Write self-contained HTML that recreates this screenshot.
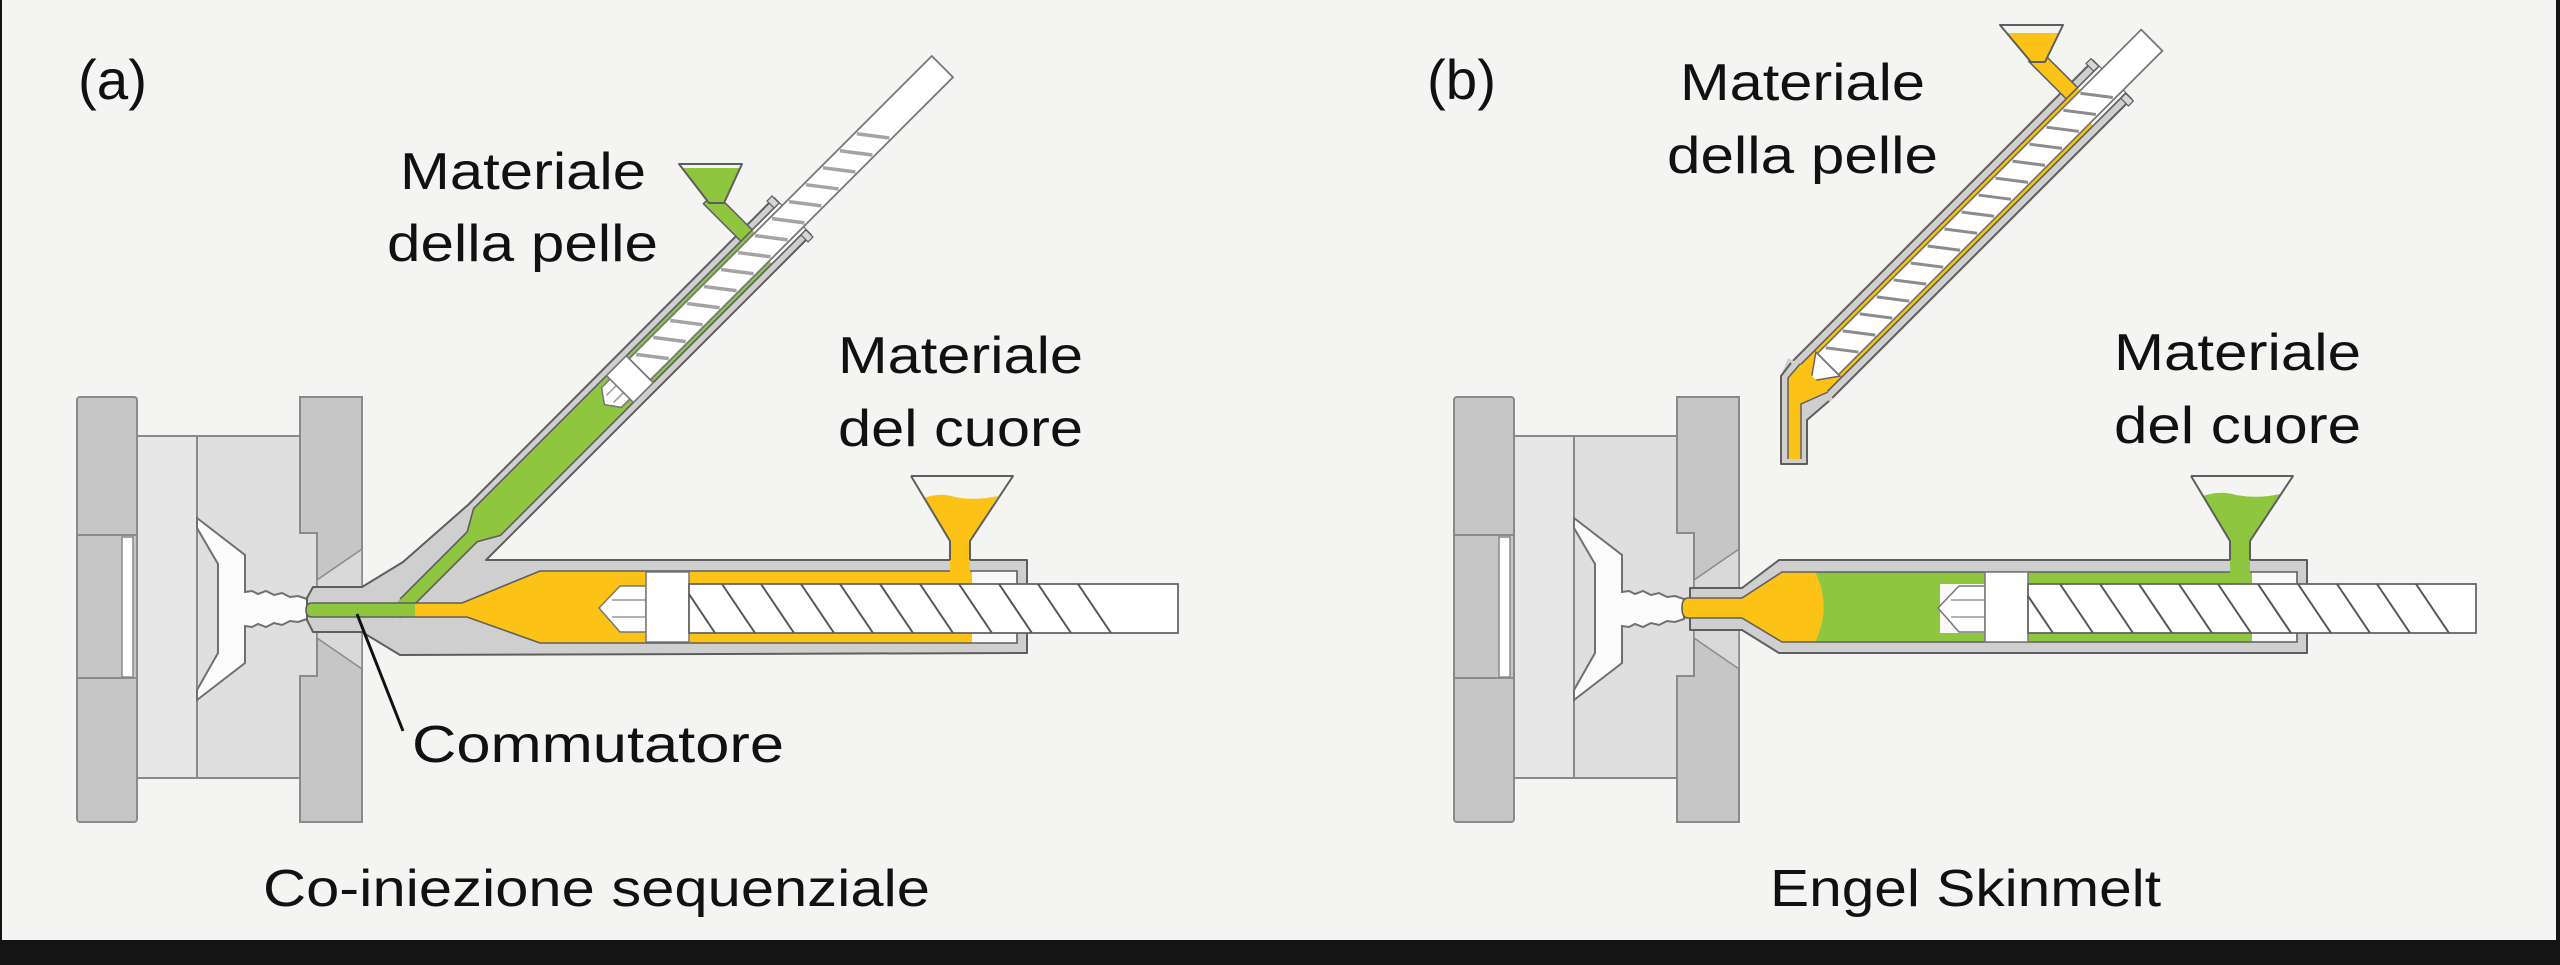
<!DOCTYPE html>
<html><head><meta charset="utf-8"><style>
html,body{margin:0;padding:0;background:#141414;}
svg{display:block;}
text{font-family:"Liberation Sans",sans-serif;fill:#111;}
</style></head><body>
<svg width="2560" height="965" viewBox="0 0 2560 965" xmlns="http://www.w3.org/2000/svg">
<rect x="0" y="0" width="2560" height="965" fill="#141414"/>
<rect x="2" y="0" width="2554" height="940" fill="#f4f4f2"/>
<defs>
<g id="mold" stroke="#8a8a8a" stroke-width="2">
  <rect x="137" y="436" width="60" height="342" fill="#e7e7e7"/>
  <rect x="197" y="436" width="103" height="342" fill="#dfdfdf"/>
  <rect x="298" y="533" width="19" height="143" fill="#dfdfdf" stroke="none"/>
  <polygon fill="#fbfbfb" stroke="#707070" points="197,518 245,555 245,592 252,591 258,594 266,591 274,595 282,593 290,597 298,596 307,599 307,619 298,622 290,621 282,625 274,623 266,627 258,624 252,627 245,626 245,663 197,700 197,690 218,653 218,564 197,528"/>
  <rect x="77" y="397" width="60" height="425" rx="3" fill="#c6c6c6"/>
  <line x1="77" y1="535" x2="137" y2="535"/>
  <line x1="77" y1="678" x2="137" y2="678"/>
  <rect x="122" y="537" width="11" height="140" fill="#ffffff" stroke-width="1.5"/>
  <path d="M300,397 H362 V822 H300 V676 H317 V533 H300 Z" fill="#c6c6c6"/>
  <polygon points="317,580 362,549 362,588 317,588" fill="#d9d9d9" stroke-width="1.5"/>
  <polygon points="317,638 362,669 362,630 317,630" fill="#d9d9d9" stroke-width="1.5"/>
</g>
</defs>
<use href="#mold"/>
<use href="#mold" x="1377"/>

<!-- ================= PANEL A ================= -->
<polygon points="313,587 362,587 403,562 469,504 774,198 811,235 486,560 1027,560 1027,653 400,655 362,632 313,632 307,620 307,598" fill="#cfcfcf" stroke="#5e5e5e" stroke-width="2" stroke-linejoin="round"/>

<!-- skin unit A (rotated) -->
<g transform="translate(405,604) rotate(-45)">
  <rect x="494" y="-72" width="16" height="54" fill="#8fc640" stroke="#5e5e5e" stroke-width="1.5"/>
  <polygon points="95,-7 116,-19 548,-19 548,19 116,19 95,7" fill="#f8f8f8"/>
  <polygon points="-14,-7 95,-7 116,-19 304,-19 304,19 116,19 95,7 -14,7" fill="#8fc640"/>
  <rect x="304" y="-19" width="206" height="4" fill="#8fc640"/>
  <rect x="304" y="15" width="196" height="4" fill="#8fc640"/>
  <path d="M0,-7 L95,-7 L116,-19 L548,-19 M0,7 L95,7 L116,19 L548,19" fill="none" stroke="#5e5e5e" stroke-width="1.6"/>
  <rect x="541" y="-29" width="7" height="10" fill="#d6d6d6" stroke="#5e5e5e" stroke-width="1.2"/>
  <rect x="541" y="19" width="7" height="10" fill="#d6d6d6" stroke="#5e5e5e" stroke-width="1.2"/>
  <polygon points="282,0 292,-14 304,-14 304,14 292,14" fill="#ffffff" stroke="#777" stroke-width="1.5"/>
  <line x1="290" y1="-5" x2="304" y2="-5" stroke="#999" stroke-width="1.5"/>
  <line x1="290" y1="5" x2="304" y2="5" stroke="#999" stroke-width="1.5"/>
  <rect x="304" y="-19" width="28" height="38" fill="#ffffff" stroke="#777" stroke-width="1.5"/>
  <rect x="332" y="-15" width="428" height="30" fill="#ffffff" stroke="#777" stroke-width="1.8"/>
  <g stroke="#a4a4a4" stroke-width="3.5">
    <line x1="340" y1="-13" x2="360" y2="13"/><line x1="364" y1="-13" x2="384" y2="13"/>
    <line x1="388" y1="-13" x2="408" y2="13"/><line x1="412" y1="-13" x2="432" y2="13"/>
    <line x1="436" y1="-13" x2="456" y2="13"/><line x1="460" y1="-13" x2="480" y2="13"/>
    <line x1="484" y1="-13" x2="504" y2="13"/><line x1="508" y1="-13" x2="528" y2="13"/>
    <line x1="532" y1="-13" x2="552" y2="13"/><line x1="556" y1="-13" x2="576" y2="13"/>
    <line x1="580" y1="-13" x2="600" y2="13"/><line x1="604" y1="-13" x2="624" y2="13"/>
    <line x1="628" y1="-13" x2="648" y2="13"/><line x1="652" y1="-13" x2="672" y2="13"/>
  </g>
</g>
<!-- skin hopper A -->
<polygon points="679,164 742,164 724,203 709,203" fill="#f4f4f2"/>
<polygon points="682,168 740,168 724,203 709,203" fill="#8fc640"/>
<polygon points="679,164 742,164 724,203 709,203" fill="none" stroke="#5e5e5e" stroke-width="2" stroke-linejoin="round"/>

<!-- horizontal unit A -->
<rect x="540" y="571" width="477" height="72" fill="#f8f8f8"/>
<polygon points="413,603 462,603 540,571 972,571 972,643 540,643 467,617 413,617" fill="#fcc216"/>
<path d="M306,610 Q306,603 312,603 H415 V617 H312 Q306,617 306,610 Z" fill="#8fc640"/>
<path d="M413,603 H462 L540,571 H1017 V584 M1017,633 V643 H540 L467,617 H413 M413,603 H312 Q306,603 306,610 Q306,617 312,617 H413" fill="none" stroke="#5e5e5e" stroke-width="1.6"/>
<polygon points="599,608 620,586 646,586 646,632 620,632" fill="#ffffff" stroke="#777" stroke-width="1.5"/>
<line x1="612" y1="600" x2="646" y2="600" stroke="#999" stroke-width="1.5"/>
<line x1="612" y1="617" x2="646" y2="617" stroke="#999" stroke-width="1.5"/>
<rect x="646" y="572" width="43" height="70" fill="#ffffff" stroke="#777" stroke-width="1.5"/>
<rect x="689" y="584" width="489" height="49" fill="#ffffff" stroke="#666" stroke-width="1.8"/>
<g stroke="#555" stroke-width="2">
  <line x1="689" y1="594" x2="715" y2="633"/>
  <line x1="722" y1="584" x2="755" y2="633"/><line x1="761" y1="584" x2="794" y2="633"/>
  <line x1="801" y1="584" x2="834" y2="633"/><line x1="840" y1="584" x2="873" y2="633"/>
  <line x1="880" y1="584" x2="913" y2="633"/><line x1="920" y1="584" x2="953" y2="633"/>
  <line x1="959" y1="584" x2="992" y2="633"/><line x1="999" y1="584" x2="1032" y2="633"/>
  <line x1="1038" y1="584" x2="1071" y2="633"/><line x1="1078" y1="584" x2="1111" y2="633"/>
</g>
<!-- core hopper A -->
<polygon points="911,476 1013,476 970,541 950,541" fill="#f4f4f2"/>
<path d="M924,498 Q940,492 955,497 Q975,501 998,496 L970,541 L950,541 Z" fill="#fcc216"/>
<rect x="950" y="539" width="20" height="34" fill="#fcc216"/>
<path d="M911,476 H1013 L970,541 V560 M911,476 L950,541 V560" fill="none" stroke="#5e5e5e" stroke-width="2" stroke-linejoin="round"/>

<line x1="357" y1="614" x2="403" y2="731" stroke="#111" stroke-width="3"/>

<!-- ================= PANEL B ================= -->
<g transform="translate(1835,357) rotate(-45)">
  <rect x="-35" y="-27" width="427" height="54" fill="#cfcfcf" stroke="#5e5e5e" stroke-width="2"/>
  <rect x="385" y="-30" width="7" height="11" fill="#d6d6d6" stroke="#5e5e5e" stroke-width="1.2"/>
  <rect x="385" y="19" width="7" height="11" fill="#d6d6d6" stroke="#5e5e5e" stroke-width="1.2"/>
</g>
<polygon points="1788,358 1781,376 1781,463 1806,463 1806,420 1833,399 1815,372" fill="#cfcfcf"/>
<path d="M1791,363 L1781,376 V464 H1807 V420 L1829,401" fill="none" stroke="#5e5e5e" stroke-width="2" stroke-linejoin="round"/>
<g transform="translate(1835,357) rotate(-45)">
  <rect x="346" y="-72" width="16" height="54" fill="#fcc216" stroke="#5e5e5e" stroke-width="1.5"/>
  <rect x="-30" y="-19" width="422" height="38" fill="#f8f8f8"/>
  <rect x="-30" y="-19" width="22" height="38" fill="#fcc216"/>
  <rect x="-10" y="-19" width="372" height="4" fill="#fcc216"/>
  <rect x="-10" y="15" width="356" height="4" fill="#fcc216"/>
  <path d="M-30,-19 H392 M-30,19 H392" fill="none" stroke="#5e5e5e" stroke-width="1.6"/>
  <polygon points="-34,0 -10,-17 -10,17" fill="#ffffff" stroke="#666" stroke-width="1.5"/>
  <rect x="-10" y="-15" width="458" height="30" fill="#ffffff" stroke="#777" stroke-width="1.8"/>
  <g stroke="#8c8c8c" stroke-width="3">
    <line x1="0" y1="-13" x2="20" y2="13"/><line x1="24" y1="-13" x2="44" y2="13"/>
    <line x1="48" y1="-13" x2="68" y2="13"/><line x1="72" y1="-13" x2="92" y2="13"/>
    <line x1="96" y1="-13" x2="116" y2="13"/><line x1="120" y1="-13" x2="140" y2="13"/>
    <line x1="144" y1="-13" x2="164" y2="13"/><line x1="168" y1="-13" x2="188" y2="13"/>
    <line x1="192" y1="-13" x2="212" y2="13"/><line x1="216" y1="-13" x2="236" y2="13"/>
    <line x1="240" y1="-13" x2="260" y2="13"/><line x1="264" y1="-13" x2="284" y2="13"/>
    <line x1="288" y1="-13" x2="308" y2="13"/><line x1="312" y1="-13" x2="332" y2="13"/>
    <line x1="336" y1="-13" x2="356" y2="13"/><line x1="360" y1="-13" x2="380" y2="13"/>
  </g>
</g>
<polygon points="1800,364 1788,378 1788,459 1801,459 1801,404 1828,392" fill="#fcc216"/>
<path d="M1800,364 L1788,378 V459 M1828,392 L1801,404 V459" fill="none" stroke="#5e5e5e" stroke-width="1.5"/>
<!-- skin hopper B -->
<polygon points="2000,25 2063,25 2045,62 2031,62" fill="#f4f4f2"/>
<polygon points="2007,33 2059,33 2045,62 2031,62" fill="#fcc216"/>
<polygon points="2000,25 2063,25 2045,62 2031,62" fill="none" stroke="#5e5e5e" stroke-width="2" stroke-linejoin="round"/>

<!-- horizontal unit B -->
<polygon points="1690,588 1742,588 1779,560 2307,560 2307,653 1779,653 1742,630 1690,630" fill="#cfcfcf" stroke="#5e5e5e" stroke-width="2" stroke-linejoin="round"/>
<rect x="1779" y="572" width="518" height="70" fill="#f8f8f8"/>
<path d="M1688,598 H1742 L1782,572 H1815 Q1832,607 1815,642 H1782 L1742,618 H1688 Q1682,618 1682,608 Q1682,598 1688,598 Z" fill="#fcc216"/>
<path d="M1815,572 H1940 V642 H1815 Q1832,607 1815,572 Z" fill="#8fc640"/>
<rect x="1940" y="572" width="312" height="12" fill="#8fc640"/>
<rect x="1940" y="633" width="312" height="9" fill="#8fc640"/>
<path d="M1688,598 H1742 L1782,572 H2297 V584 M2297,633 V642 H1782 L1742,618 H1688 Q1682,618 1682,608 Q1682,598 1688,598" fill="none" stroke="#5e5e5e" stroke-width="1.6"/>
<polygon points="1938,608 1959,586 1985,586 1985,632 1959,632" fill="#ffffff" stroke="#777" stroke-width="1.5"/>
<line x1="1951" y1="600" x2="1985" y2="600" stroke="#999" stroke-width="1.5"/>
<line x1="1951" y1="617" x2="1985" y2="617" stroke="#999" stroke-width="1.5"/>
<rect x="1985" y="572" width="43" height="70" fill="#ffffff" stroke="#777" stroke-width="1.5"/>
<rect x="2028" y="584" width="448" height="49" fill="#ffffff" stroke="#666" stroke-width="1.8"/>
<g stroke="#555" stroke-width="2">
  <line x1="2028" y1="596" x2="2053" y2="633"/>
  <line x1="2060" y1="584" x2="2093" y2="633"/><line x1="2100" y1="584" x2="2133" y2="633"/>
  <line x1="2139" y1="584" x2="2172" y2="633"/><line x1="2179" y1="584" x2="2212" y2="633"/>
  <line x1="2218" y1="584" x2="2251" y2="633"/><line x1="2258" y1="584" x2="2291" y2="633"/>
  <line x1="2298" y1="584" x2="2331" y2="633"/><line x1="2337" y1="584" x2="2370" y2="633"/>
  <line x1="2377" y1="584" x2="2410" y2="633"/><line x1="2416" y1="584" x2="2449" y2="633"/>
</g>
<!-- core hopper B -->
<polygon points="2191,476 2293,476 2250,541 2230,541" fill="#f4f4f2"/>
<path d="M2203,496 Q2220,490 2236,495 Q2258,499 2280,494 L2250,541 L2230,541 Z" fill="#8fc640"/>
<rect x="2230" y="539" width="20" height="34" fill="#8fc640"/>
<path d="M2191,476 H2293 L2250,541 V560 M2191,476 L2230,541 V560" fill="none" stroke="#5e5e5e" stroke-width="2" stroke-linejoin="round"/>

<!-- ================= TEXT ================= -->
<text x="78" y="99" font-size="56" textLength="69" lengthAdjust="spacingAndGlyphs">(a)</text>
<text x="1427" y="99" font-size="56" textLength="69" lengthAdjust="spacingAndGlyphs">(b)</text>

<text x="400" y="189" font-size="52" textLength="246" lengthAdjust="spacingAndGlyphs">Materiale</text>
<text x="387" y="261" font-size="52" textLength="271" lengthAdjust="spacingAndGlyphs">della pelle</text>
<text x="838" y="373" font-size="52" textLength="245" lengthAdjust="spacingAndGlyphs">Materiale</text>
<text x="838" y="446" font-size="52" textLength="245" lengthAdjust="spacingAndGlyphs">del cuore</text>
<text x="412" y="762" font-size="52" textLength="372" lengthAdjust="spacingAndGlyphs">Commutatore</text>
<text x="263" y="906" font-size="52" textLength="667" lengthAdjust="spacingAndGlyphs">Co-iniezione sequenziale</text>

<text x="1680" y="100" font-size="52" textLength="245" lengthAdjust="spacingAndGlyphs">Materiale</text>
<text x="1667" y="173" font-size="52" textLength="271" lengthAdjust="spacingAndGlyphs">della pelle</text>
<text x="2114" y="370" font-size="52" textLength="247" lengthAdjust="spacingAndGlyphs">Materiale</text>
<text x="2114" y="443" font-size="52" textLength="247" lengthAdjust="spacingAndGlyphs">del cuore</text>
<text x="1770" y="906" font-size="52" textLength="391" lengthAdjust="spacingAndGlyphs">Engel Skinmelt</text>
</svg>
</body></html>
